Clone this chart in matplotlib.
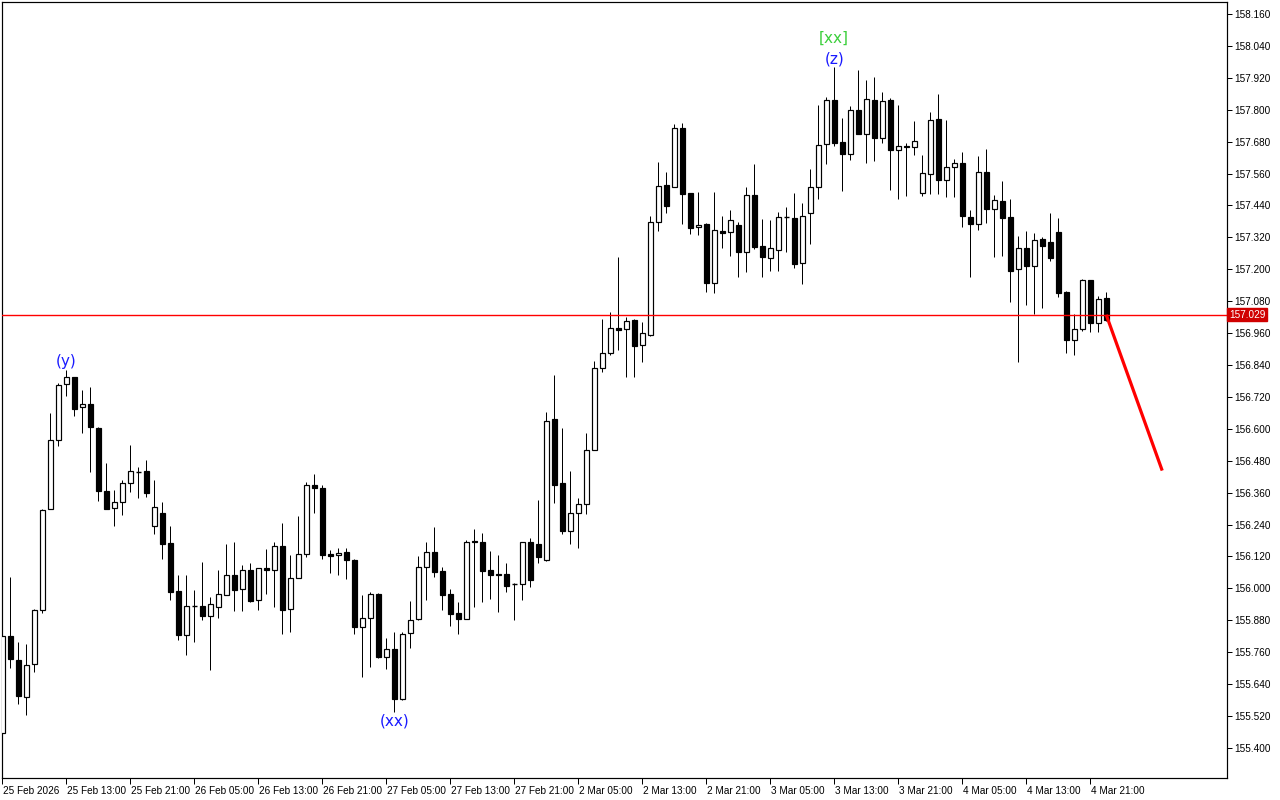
import matplotlib
matplotlib.use("Agg")
import matplotlib.pyplot as plt
import matplotlib.transforms as mtransforms

# ---- data (hourly candles, weekend skipped) ----
opens = [155.457, 155.821, 155.731, 155.593, 155.714, 155.918, 156.300, 156.557, 156.767, 156.794,
         156.681, 156.692, 156.603, 156.366, 156.301, 156.324, 156.395, 156.440, 156.440, 156.233,
         156.282, 156.170, 155.990, 155.826, 155.936, 155.934, 155.897, 155.929, 155.976, 156.049,
         155.999, 156.068, 155.957, 156.077, 156.070, 156.158, 155.923, 156.038, 156.128, 156.388,
         156.376, 156.128, 156.124, 156.137, 156.107, 155.854, 155.887, 155.979, 155.743, 155.772,
         155.585, 155.831, 155.886, 156.079, 156.137, 156.065, 155.979, 155.906, 155.886, 156.178,
         156.174, 156.069, 156.054, 156.054, 156.016, 156.015, 156.173, 156.166, 156.106, 156.637,
         156.396, 156.215, 156.282, 156.316, 156.519, 156.828, 156.884, 156.978, 156.974, 157.009,
         156.914, 156.954, 157.377, 157.516, 157.508, 157.730, 157.486, 157.358, 157.369, 157.147,
         157.343, 157.339, 157.365, 157.266, 157.478, 157.288, 157.244, 157.274, 157.396, 157.392,
         157.223, 157.411, 157.511, 157.670, 157.836, 157.678, 157.635, 157.798, 157.710, 157.836,
         157.693, 157.836, 157.648, 157.662, 157.659, 157.488, 157.557, 157.764, 157.535, 157.584,
         157.600, 157.396, 157.369, 157.565, 157.426, 157.457, 157.397, 157.200, 157.279, 157.213,
         157.313, 157.301, 157.339, 157.113, 156.935, 156.974, 157.159, 156.997, 157.091]
highs = [155.843, 156.043, 155.797, 155.791, 155.922, 156.297, 156.660, 156.772, 156.821, 156.795,
         156.746, 156.757, 156.607, 156.470, 156.370, 156.408, 156.538, 156.458, 156.483, 156.408,
         156.325, 156.235, 156.050, 156.050, 155.994, 156.099, 155.969, 156.069, 156.167, 156.174,
         156.088, 156.095, 156.076, 156.148, 156.173, 156.246, 156.125, 156.272, 156.400, 156.430,
         156.389, 156.144, 156.151, 156.153, 156.110, 155.975, 155.987, 155.981, 155.812, 155.835,
         155.835, 155.952, 156.122, 156.174, 156.231, 156.080, 155.998, 155.948, 156.182, 156.222,
         156.208, 156.141, 156.126, 156.095, 156.021, 156.176, 156.190, 156.332, 156.662, 156.802,
         156.603, 156.441, 156.341, 156.584, 156.854, 157.013, 157.039, 157.246, 157.019, 157.012,
         157.001, 157.400, 157.604, 157.566, 157.746, 157.750, 157.487, 157.490, 157.373, 157.491,
         157.399, 157.423, 157.378, 157.508, 157.596, 157.389, 157.385, 157.414, 157.433, 157.486,
         157.448, 157.576, 157.818, 157.847, 157.960, 157.768, 157.814, 157.948, 157.912, 157.922,
         157.868, 157.843, 157.818, 157.674, 157.757, 157.630, 157.792, 157.860, 157.763, 157.614,
         157.640, 157.423, 157.625, 157.652, 157.479, 157.532, 157.464, 157.325, 157.344, 157.335,
         157.323, 157.412, 157.393, 157.119, 157.032, 157.163, 157.160, 157.100, 157.113]
lows = [155.449, 155.699, 155.567, 155.524, 155.687, 155.909, 156.300, 156.535, 156.725, 156.648,
        156.585, 156.439, 156.330, 156.300, 156.236, 156.277, 156.364, 156.341, 156.345, 156.206,
        156.112, 155.956, 155.806, 155.749, 155.798, 155.881, 155.693, 155.889, 155.976, 155.915,
        155.915, 155.949, 155.919, 155.979, 155.931, 155.830, 155.836, 156.038, 156.119, 156.285,
        156.109, 156.059, 156.051, 156.034, 155.827, 155.666, 155.703, 155.737, 155.696, 155.534,
        155.580, 155.775, 155.882, 155.956, 156.044, 155.920, 155.860, 155.830, 155.886, 155.929,
        155.950, 155.960, 155.912, 155.987, 155.881, 155.956, 156.006, 156.094, 156.103, 156.322,
        156.204, 156.168, 156.153, 156.281, 156.519, 156.815, 156.879, 156.898, 156.794, 156.794,
        156.852, 156.950, 157.345, 157.411, 157.508, 157.369, 157.334, 157.328, 157.116, 157.110,
        157.279, 157.251, 157.172, 157.191, 157.277, 157.172, 157.195, 157.195, 157.266, 157.206,
        157.146, 157.295, 157.463, 157.596, 157.664, 157.496, 157.611, 157.710, 157.599, 157.608,
        157.674, 157.498, 157.463, 157.477, 157.630, 157.476, 157.483, 157.484, 157.471, 157.470,
        157.360, 157.172, 157.349, 157.375, 157.247, 157.251, 157.078, 156.852, 157.067, 157.033,
        157.056, 157.230, 157.097, 156.886, 156.879, 156.968, 156.964, 156.965, 157.005]
closes = [155.821, 155.733, 155.596, 155.712, 155.919, 156.294, 156.557, 156.764, 156.794, 156.676,
          156.692, 156.608, 156.367, 156.300, 156.324, 156.395, 156.440, 156.439, 156.360, 156.305,
          156.168, 155.987, 155.826, 155.934, 155.935, 155.897, 155.940, 155.978, 156.049, 155.995,
          156.068, 155.952, 156.075, 156.070, 156.158, 155.920, 156.038, 156.128, 156.388, 156.379,
          156.127, 156.123, 156.132, 156.106, 155.856, 155.887, 155.979, 155.743, 155.771, 155.585,
          155.828, 155.880, 156.079, 156.136, 156.063, 155.976, 155.905, 155.886, 156.174, 156.176,
          156.066, 156.052, 156.052, 156.010, 156.015, 156.173, 156.031, 156.117, 156.631, 156.390,
          156.217, 156.282, 156.316, 156.519, 156.828, 156.884, 156.978, 156.971, 157.006, 156.913,
          156.959, 157.377, 157.512, 157.439, 157.730, 157.484, 157.356, 157.368, 157.150, 157.347,
          157.335, 157.384, 157.266, 157.478, 157.285, 157.247, 157.279, 157.396, 157.395, 157.219,
          157.399, 157.508, 157.666, 157.836, 157.676, 157.635, 157.798, 157.710, 157.839, 157.695,
          157.833, 157.648, 157.663, 157.658, 157.681, 157.561, 157.761, 157.535, 157.585, 157.599,
          157.402, 157.369, 157.565, 157.428, 157.459, 157.394, 157.195, 157.279, 157.213, 157.309,
          157.289, 157.244, 157.112, 156.935, 156.974, 157.159, 156.999, 157.087, 157.010]

bid_price = 157.029
projection_idx = [138, 145]
projection_price = [157.029, 156.443]

tick_idx = [0, 8, 16, 24, 32, 40, 48, 56, 64, 72, 80, 88, 96, 104, 112, 120, 128, 136]
tick_labels = ["25 Feb 2026", "25 Feb 13:00", "25 Feb 21:00", "26 Feb 05:00", "26 Feb 13:00",
               "26 Feb 21:00", "27 Feb 05:00", "27 Feb 13:00", "27 Feb 21:00", "2 Mar 05:00",
               "2 Mar 13:00", "2 Mar 21:00", "3 Mar 05:00", "3 Mar 13:00", "3 Mar 21:00",
               "4 Mar 05:00", "4 Mar 13:00", "4 Mar 21:00"]
price_ticks = [155.400 + 0.12 * k for k in range(24)]

wave_labels = [("(y)", 8, 156.855, "#1a1aff"),
               ("(xx)", 49, 155.501, "#1a1aff"),
               ("(z)", 104, 157.991, "#1a1aff"),
               ("[xx]", 104, 158.070, "#3ccf3c")]

# ---- figure ----
W, H = 1280, 800
fig = plt.figure(figsize=(W / 100, H / 100), dpi=100)
ax = fig.add_axes([2 / W, 22 / H, 1225 / W, 776 / H])
ax.set_facecolor("white")
px = 0.72  # 1 pixel in points
axis_font = "Liberation Sans"

n = len(opens)
xs = list(range(n))
ax.vlines(xs, lows, highs, color="black", lw=px, zorder=2)
for i in xs:
    o, c = opens[i], closes[i]
    bottom = min(o, c)
    height = abs(c - o)
    if height < 0.002:
        ax.hlines((o + c) / 2, i - 0.3, i + 0.3, color="black", lw=px * 1.4, zorder=3)
        continue
    face = "white" if c > o else "black"
    ax.bar(i, height, bottom=bottom, width=0.6, color=face, edgecolor="black",
           linewidth=px * 1.2, zorder=3)

ax.axhline(bid_price, color="#ff0000", lw=1.0, zorder=4)
ax.plot(projection_idx, projection_price, color="#ff0000", lw=2.3, zorder=5,
        solid_capstyle="butt")

for txt, i, p, col in wave_labels:
    ax.text(i, p, txt, color=col, fontsize=11, ha="center", va="center", zorder=6)

ax.set_xlim(-0.04, 153.1)
ax.set_ylim(155.287, 158.205)

ax.yaxis.tick_right()
ax.set_yticks(price_ticks)
ax.set_yticklabels([f"{v:.3f}" for v in price_ticks], fontsize=7.2, family=axis_font)
ax.tick_params(axis="y", direction="out", length=3.5, width=px, pad=2)

ax.set_xticks(tick_idx)
ax.set_xticklabels(tick_labels, fontsize=7.2, ha="left", family=axis_font)
ax.tick_params(axis="x", direction="out", length=4, width=px, pad=2)
for lbl in ax.get_xticklabels():
    lbl.set_transform(lbl.get_transform() + mtransforms.ScaledTranslation(1 / 100, 0, fig.dpi_scale_trans))

for s in ax.spines.values():
    s.set_linewidth(px * 1.2)
    s.set_color("black")

trans = mtransforms.blended_transform_factory(ax.transAxes, ax.transData)
ax.text(1.0015, bid_price, "157.029", transform=trans, fontsize=7.2, color="white",
        family=axis_font, ha="left", va="center", zorder=7,
        bbox=dict(boxstyle="square,pad=0.15", facecolor="#d00000", edgecolor="#d00000"))

fig.savefig("out.png", dpi=100, facecolor="white")
